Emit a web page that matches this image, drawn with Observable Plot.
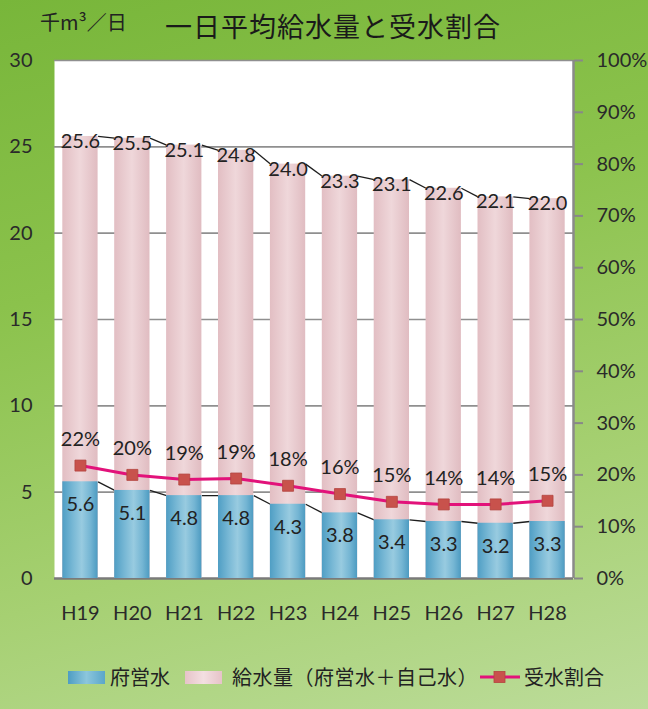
<!DOCTYPE html>
<html><head><meta charset="utf-8">
<script src="https://cdn.jsdelivr.net/npm/d3@7"></script>
<script src="https://cdn.jsdelivr.net/npm/@observablehq/plot@0.6"></script>
<style>
html,body{margin:0;padding:0;}
body{width:648px;height:709px;overflow:hidden;position:relative;
  background: linear-gradient(165deg, #78b63a 0%, #8bc24c 35%, #a6d072 70%, #bcdc9a 100%);
  font-family: Lato, "Noto Sans CJK JP", sans-serif; color:#222;}
.jp{font-family:"Noto Sans CJK JP", sans-serif;}
#unit{position:absolute; left:40px; top:10px; font-size:20px; line-height:24px; color:#222;}
#main{position:absolute; left:165px; top:9px; font-size:27px; line-height:34px; letter-spacing:1px; color:#1a1a1a;}
#chart{position:absolute; left:0; top:44px;}
.lg{position:absolute; top:664px; height:26px; line-height:26px; font-size:20px; color:#222;}
.sw{position:absolute; top:671px; width:37px; height:13px;}
</style>
</head><body>
<div id="unit" class="jp">千m³／日</div>
<div id="main" class="jp">一日平均給水量と受水割合</div>
<div id="chart"></div>
<div class="sw" style="left:68px;background:linear-gradient(90deg,#4e9dc3,#8cc6dc 50%,#5aa6c9);"></div>
<div class="lg jp" style="left:110px;">府営水</div>
<div class="sw" style="left:185px;background:linear-gradient(90deg,#e6c3c8,#f3dfe1 50%,#e6c3c8);"></div>
<div class="lg jp" style="left:232px;letter-spacing:0.5px;">給水量（府営水＋自己水）</div>
<svg style="position:absolute;left:480px;top:669px;" width="40" height="16">
  <line x1="0" x2="40" y1="8" y2="8" stroke="#e2127a" stroke-width="3"/>
  <rect x="14" y="2.5" width="11" height="11" fill="#c8524c" stroke="#b3443f" stroke-width="0.8"/>
</svg>
<div class="lg jp" style="left:524px;">受水割合</div>
<script>
const years = ["H19","H20","H21","H22","H23","H24","H25","H26","H27","H28"];
const totalSupply = [25.6,25.5,25.1,24.8,24.0,23.3,23.1,22.6,22.1,22.0];
const prefWater = [5.6,5.1,4.8,4.8,4.3,3.8,3.4,3.3,3.2,3.3];
const receiveRatio = [21.8,20.0,19.1,19.3,17.9,16.3,14.8,14.3,14.3,15.0];
const ratioLabels = ["22%","20%","19%","19%","18%","16%","15%","14%","14%","15%"];
const leftTicks = [0,5,10,15,20,25,30];
const gridTicks = [5,10,15,20,25,30];
const rightTicks = [0,10,20,30,40,50,60,70,80,90,100];
const pctToLeft = 30 / 100; // 100% on the right axis = 30 on the left axis

const rows = years.map((year, i) => ({i, year, total: totalSupply[i], pref: prefWater[i], ratio: receiveRatio[i], ratioLabel: ratioLabels[i]}));
const pairs = rows.slice(0, -1).map((d, k) => ({a: d, b: rows[k + 1]}));
const hw = 0.34;

const chart = Plot.plot({
  width: 648, height: 584,
  marginTop: 16, marginBottom: 50, marginLeft: 54, marginRight: 75,
  style: {background: "transparent", fontFamily: "Lato, 'Noto Sans CJK JP', sans-serif", fontSize: "20px", color: "#2a2a2a", overflow: "visible"},
  x: {domain: [-0.5, years.length - 0.5]},
  y: {domain: [0, 30]},
  marks: [
    Plot.frame({fill: "white", stroke: null}),
    Plot.ruleY(gridTicks, {stroke: "#8f8f8f", strokeWidth: 1.6}),
    Plot.ruleY([0], {stroke: "#7a7a7a", strokeWidth: 2.5}),
    Plot.ruleX([years.length - 0.5], {stroke: "#8a8a8a", strokeWidth: 2.5}),
    Plot.axisY({anchor: "left", ticks: leftTicks, tickSize: 0, tickPadding: 22, label: null, fontSize: 20}),
    Plot.axisY({anchor: "right", ticks: rightTicks.map(p => p * pctToLeft), tickSize: 9, tickPadding: 14,
      tickFormat: d => Math.round(d / pctToLeft) + "%", label: null, stroke: "#888", strokeWidth: 2, fontSize: 20}),
    Plot.axisX({ticks: rows.map(d => d.i), tickFormat: i => years[i], tickSize: 0, tickPadding: 27, label: null, fontSize: 20}),
    Plot.link(pairs, {x1: p => p.a.i + hw, y1: p => p.a.total, x2: p => p.b.i - hw, y2: p => p.b.total, stroke: "#1e1e1e", strokeWidth: 1.3}),
    Plot.link(pairs, {x1: p => p.a.i + hw, y1: p => p.a.pref, x2: p => p.b.i - hw, y2: p => p.b.pref, stroke: "#1e1e1e", strokeWidth: 1.3}),
    Plot.rect(rows, {x1: d => d.i - hw, x2: d => d.i + hw, y1: 0, y2: "total", fill: "url(#pinkGrad)"}),
    Plot.rect(rows, {x1: d => d.i - hw, x2: d => d.i + hw, y1: 0, y2: "pref", fill: "url(#blueGrad)"}),
    Plot.line(rows, {x: "i", y: d => d.ratio * pctToLeft, stroke: "#e2127a", strokeWidth: 3}),
    Plot.dot(rows, {x: "i", y: d => d.ratio * pctToLeft, symbol: "square", r: 6.2, fill: "#c8524c", stroke: "#b3443f", strokeWidth: 0.8}),
    Plot.text(rows, {x: "i", y: "total", text: d => d.total.toFixed(1), dy: 5, fontSize: 20, fill: "#222"}),
    Plot.text(rows, {x: "i", y: "pref", text: d => d.pref.toFixed(1), dy: 23, fontSize: 20, fill: "#222"}),
    Plot.text(rows, {x: "i", y: d => d.ratio * pctToLeft, text: "ratioLabel", dy: -26, fontSize: 20, fill: "#222"})
  ]
});
chart.insertAdjacentHTML("afterbegin", `<defs>
<linearGradient id="blueGrad" x1="0" x2="1" y1="0" y2="0">
 <stop offset="0" stop-color="#4f9ec4"/><stop offset="0.3" stop-color="#78b8d5"/>
 <stop offset="0.55" stop-color="#98cbe0"/><stop offset="0.8" stop-color="#74b5d3"/><stop offset="1" stop-color="#4d9bc1"/>
</linearGradient>
<linearGradient id="pinkGrad" x1="0" x2="1" y1="0" y2="0">
 <stop offset="0" stop-color="#e2bec3"/><stop offset="0.5" stop-color="#efd7da"/><stop offset="1" stop-color="#e0bcc1"/>
</linearGradient></defs>`);
document.getElementById("chart").appendChild(chart);
</script>
</body></html>
